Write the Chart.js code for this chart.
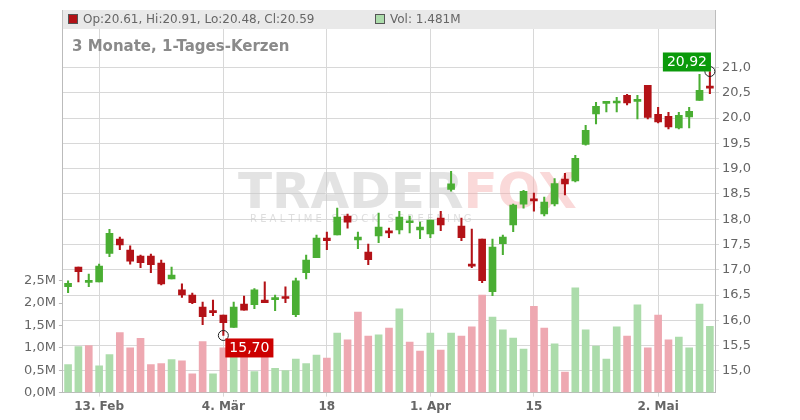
<!DOCTYPE html>
<html>
<head>
<meta charset="utf-8">
<script src="https://cdn.jsdelivr.net/npm/chart.js@4"></script>
<style>
  body { margin: 0; background: #fff; }
  #wrap { width: 800px; height: 420px; position: relative; }
</style>
</head>
<body>
<div id="wrap"><canvas id="c" width="800" height="420"></canvas></div>
<script>
// candle data, one entry per trading day
const opens  = [16.665,17.05,16.75,16.76,17.32,17.605,17.39,17.27,17.27,17.13,16.82,16.60,16.50,16.26,16.18,16.105,15.86,16.32,16.31,16.40,16.41,16.46,16.11,16.94,
  17.237,17.625,17.69,18.06,17.59,17.349,17.67,17.77,17.789,17.928,17.789,17.71,18.02,18.59,17.862,17.112,17.605,16.566,17.513,17.888,18.296,18.395,
  18.105,18.303,18.79,18.757,19.48,20.079,20.29,20.296,20.447,20.329,20.645,20.073,20.033,19.803,20.02,20.349,20.61];
const closes = [16.73,16.96,16.78,17.07,17.72,17.49,17.17,17.14,17.10,16.72,16.895,16.50,16.35,16.07,16.15,15.955,16.26,16.20,16.60,16.35,16.43,16.43,16.78,17.19,
  17.625,17.572,18.04,17.94,17.645,17.197,17.842,17.73,18.039,17.967,17.842,17.98,17.888,18.697,17.632,17.072,16.783,17.447,17.645,18.276,18.552,18.362,
  18.336,18.704,18.697,19.204,19.757,20.23,20.31,20.316,20.296,20.349,20.013,19.921,19.823,20.053,20.132,20.546,20.59];
const highs  = [16.78,17.05,16.915,17.11,17.80,17.645,17.47,17.29,17.31,17.19,17.05,16.72,16.54,16.36,16.40,16.105,16.36,16.48,16.625,16.76,16.50,16.66,16.835,17.29,
  17.684,17.743,18.217,18.10,17.743,17.507,18.118,17.822,18.157,18.059,17.941,17.98,18.157,18.947,18.02,17.802,17.605,17.605,17.684,18.296,18.572,18.513,
  18.434,18.803,18.908,19.263,19.855,20.309,20.329,20.408,20.467,20.447,20.645,20.211,20.112,20.112,20.211,20.862,20.92];
const lows   = [16.545,16.76,16.665,16.76,17.26,17.395,17.11,17.04,16.94,16.70,16.82,16.45,16.33,15.915,16.09,15.70,15.86,16.20,16.23,16.35,16.19,16.35,16.07,16.82,
  17.237,17.395,17.69,17.82,17.415,17.098,17.533,17.632,17.71,17.73,17.612,17.632,17.77,18.553,17.572,17.04,16.743,16.487,17.296,17.75,18.217,18.157,
  18.066,18.263,18.48,18.737,19.461,19.882,20.118,20.118,20.257,19.98,19.98,19.901,19.783,19.783,19.803,20.349,20.48];
// volume in millions
const volumes = [0.625,1.03,1.05,0.60,0.85,1.34,1.00,1.21,0.625,0.65,0.74,0.71,0.42,1.14,0.42,1.00,0.95,0.85,0.47,1.18,0.54,0.49,0.75,0.65,
  0.84,0.77,1.33,1.18,1.80,1.26,1.29,1.44,1.87,1.13,0.93,1.33,0.95,1.33,1.26,1.47,2.18,1.69,1.40,1.22,0.97,1.93,
  1.44,1.09,0.46,2.34,1.40,1.04,0.75,1.47,1.26,1.96,1.00,1.73,1.18,1.24,1.00,1.98,1.481];
// x labels by candle index
const dateLabels = { 3: '13. Feb', 15: '4. Mär', 25: '18', 35: '1. Apr', 45: '15', 57: '2. Mai' };
const priceTicks = [15, 15.5, 16, 16.5, 17, 17.5, 18, 18.5, 19, 19.5, 20, 20.5, 21];
const volTicks = [0, 0.5, 1, 1.5, 2, 2.5];

const GREEN = '#4aae33', RED = '#b31217';
const VGREEN = '#acdcab', VRED = '#eea8b1';

const labels = opens.map((_, i) => i);
const candleCol = opens.map((o, i) => closes[i] >= o ? GREEN : RED);
const volCol = closes.map((c, i) => (i === 0 || c >= closes[i - 1]) ? VGREEN : VRED);
const de = v => v.toFixed(1).replace('.', ',');

const overlay = {
  id: 'overlay',
  beforeDatasetsDraw(chart) {
    const { ctx } = chart;
    ctx.save();
    // watermark
    ctx.font = 'bold 50px "DejaVu Sans"';
    ctx.textBaseline = 'alphabetic';
    ctx.fillStyle = 'rgba(200,200,200,0.5)';
    ctx.fillText('TRADER', 238, 208);
    const w = ctx.measureText('TRADER').width;
    ctx.fillStyle = 'rgba(245,170,170,0.45)';
    ctx.fillText('FOX', 238 + w, 208);
    ctx.font = '10px "DejaVu Sans"';
    ctx.fillStyle = 'rgba(200,200,200,0.6)';
    ctx.fillText('R E A L T I M E   S T O C K   S C R E E N I N G', 250, 222);
    ctx.restore();
  },
  afterDraw(chart) {
    const { ctx, chartArea: a } = chart;
    const x = chart.scales.x, y = chart.scales.y;
    ctx.save();
    // header band
    ctx.fillStyle = '#e9e9e9';
    ctx.fillRect(a.left, 10, a.right - a.left, 19);
    ctx.font = '12px "DejaVu Sans"';
    ctx.textBaseline = 'middle';
    ctx.fillStyle = RED; ctx.fillRect(68, 14, 10, 10);
    ctx.strokeStyle = '#555'; ctx.lineWidth = 1; ctx.strokeRect(68.5, 14.5, 9, 9);
    ctx.fillStyle = '#666';
    ctx.fillText('Op:20.61, Hi:20.91, Lo:20.48, Cl:20.59', 83, 20);
    ctx.fillStyle = VGREEN; ctx.fillRect(375, 14, 10, 10);
    ctx.strokeRect(375.5, 14.5, 9, 9);
    ctx.fillStyle = '#666';
    ctx.fillText('Vol: 1.481M', 390, 20);
    ctx.font = 'bold 15px "DejaVu Sans"';
    ctx.fillStyle = '#8a8a8a';
    ctx.fillText('3 Monate, 1-Tages-Kerzen', 72, 47);
    // high / low markers
    const marks = [
      { i: 62, v: 20.92, text: '20,92', col: '#0b9a0b', dx: -47, dy: -9 },
      { i: 15, v: 15.70, text: '15,70', col: '#cc0000', dx: 2, dy: 13 }
    ];
    marks.forEach(m => {
      const px = x.getPixelForValue(m.i), py = y.getPixelForValue(m.v);
      ctx.beginPath(); ctx.arc(px, py, 5, 0, Math.PI * 2);
      ctx.strokeStyle = '#222'; ctx.lineWidth = 1; ctx.stroke();
      ctx.font = '14px "DejaVu Sans"';
      const tw = ctx.measureText(m.text).width;
      const bx = px + m.dx, by = py + m.dy - 10;
      ctx.fillStyle = m.col; ctx.fillRect(bx, by, tw + 8, 19);
      ctx.fillStyle = '#fff'; ctx.fillText(m.text, bx + 4, by + 10);
    });
    ctx.restore();
  }
};

new Chart(document.getElementById('c'), {
  type: 'bar',
  data: {
    labels,
    datasets: [
      { label: 'Vol', data: volumes, yAxisID: 'yv', backgroundColor: volCol, barThickness: 7, order: 3 },
      { label: 'Wick', data: labels.map(i => [lows[i], highs[i]]), yAxisID: 'y', backgroundColor: candleCol, barThickness: 1.4, order: 2 },
      { label: 'Body', data: labels.map(i => [opens[i], closes[i]]), yAxisID: 'y', backgroundColor: candleCol, barThickness: 7, minBarLength: 2, order: 1 }
    ]
  },
  options: {
    responsive: false,
    animation: false,
    grouped: false,
    layout: { padding: { top: 10, left: 21, right: 46, bottom: 3 } },
    plugins: { legend: { display: false }, tooltip: { enabled: false } },
    scales: {
      x: {
        offset: true,
        grid: { offset: false, color: c => dateLabels[c.index] ? '#d8d8d8' : 'transparent', drawTicks: true, tickLength: 4 },
        border: { color: '#bbb' },
        ticks: {
          autoSkip: false, maxRotation: 0,
          font: { family: 'DejaVu Sans', size: 12, weight: 'bold' }, color: '#666',
          callback: v => dateLabels[v] || ''
        }
      },
      y: {
        position: 'right', min: 14.57, max: 22.12,
        afterBuildTicks: s => { s.ticks = priceTicks.map(v => ({ value: v })); },
        grid: { color: '#d8d8d8', tickLength: 4 },
        border: { color: '#bbb' },
        ticks: { font: { family: 'DejaVu Sans', size: 13 }, color: '#666', callback: v => de(v) }
      },
      yv: {
        position: 'left', min: 0, max: 8.53,
        afterBuildTicks: s => { s.ticks = volTicks.map(v => ({ value: v })); },
        grid: { drawOnChartArea: false, tickLength: 4, color: '#bbb' },
        border: { color: '#bbb' },
        ticks: { font: { family: 'DejaVu Sans', size: 13 }, color: '#666', callback: v => de(v) + 'M' }
      }
    }
  },
  plugins: [overlay]
});
</script>
</body>
</html>
